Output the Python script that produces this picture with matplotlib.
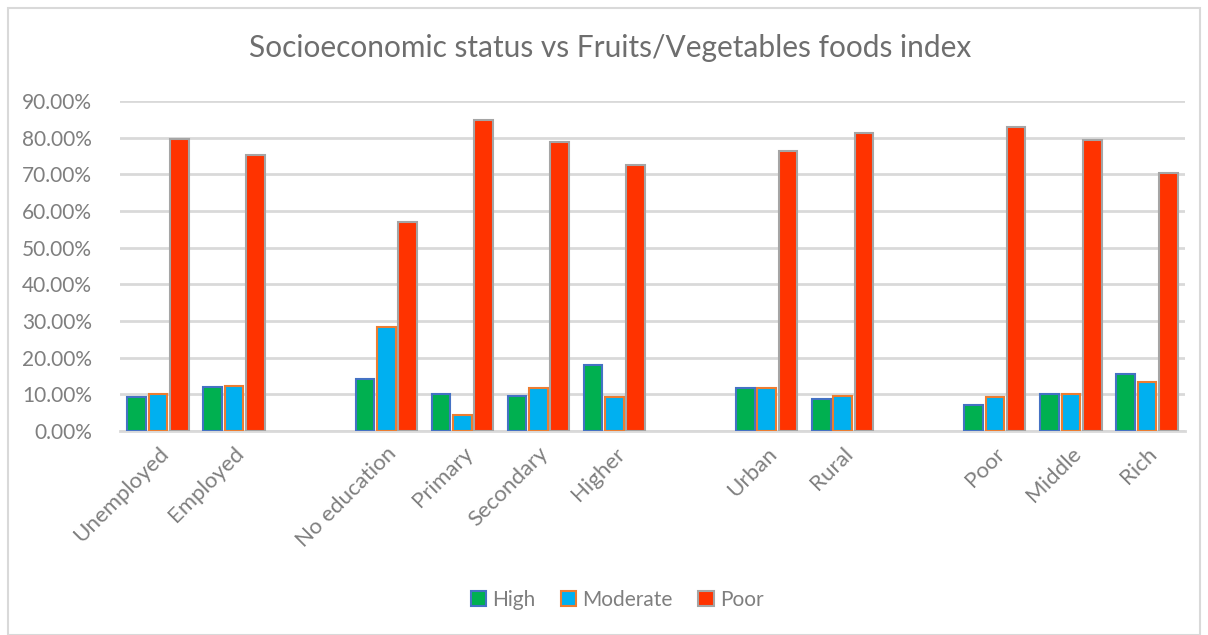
import numpy as np
import matplotlib
matplotlib.use('Agg')
from matplotlib import pyplot
from matplotlib.patches import Rectangle
from matplotlib.ticker import FuncFormatter


# socioeconomic categories, grouped (employment, education, residence, wealth)
categories = ['Unemployed', 'Employed',
              'No education', 'Primary', 'Secondary', 'Higher',
              'Urban', 'Rural',
              'Poor', 'Middle', 'Rich']
groups = [0, 0, 1, 1, 1, 1, 2, 2, 3, 3, 3]

# share of respondents per fruits/vegetables index level
high = [0.094, 0.120, 0.142, 0.102, 0.095, 0.181, 0.116, 0.086, 0.070, 0.100, 0.155]
moderate = [0.101, 0.124, 0.283, 0.044, 0.117, 0.092, 0.118, 0.096, 0.094, 0.100, 0.134]
poor = [0.797, 0.754, 0.569, 0.848, 0.787, 0.726, 0.764, 0.814, 0.829, 0.793, 0.704]

series = [('High', high, '#00B050', '#4472C4'),
          ('Moderate', moderate, '#00B0F0', '#ED7D31'),
          ('Poor', poor, '#FF3300', '#A5A5A5')]

pyplot.rcParams['font.family'] = ['Lato', 'DejaVu Sans']
text_color = '#7F7F7F'
grid_color = '#D9D9D9'

fig = pyplot.figure(figsize=(12.08, 6.35), dpi=100)
ax = fig.add_axes([120/1208, 1 - 431/635, 1065/1208, 330/635])

# leave one empty slot between each group of categories
x = np.arange(len(categories)) + np.array(groups)
width = 0.245
offsets = [-0.28, 0.0, 0.28]
for (name, values, face, edge), off in zip(series, offsets):
    ax.bar(x + off, values, width,
           color=face, edgecolor=edge, linewidth=1.5,
           label=name, zorder=3)

ax.set_xlim(-0.5, x[-1] + 0.5)
ax.set_ylim(0, 0.9)
ax.set_yticks(np.arange(0, 0.91, 0.1))
ax.yaxis.set_major_formatter(FuncFormatter(lambda v, p: '{:.2f}%'.format(v*100)))
ax.grid(True, axis='y', color=grid_color, linewidth=2, zorder=0)
for side in ['top', 'right', 'left']:
    ax.spines[side].set_visible(False)
ax.spines['bottom'].set_color(grid_color)
ax.spines['bottom'].set_linewidth(2)
ax.tick_params(axis='both', length=0, labelsize=15, labelcolor=text_color)
ax.tick_params(axis='y', pad=20)

ax.set_xticks(x)
ax.set_xticklabels(categories, rotation=45, ha='right',
                   rotation_mode='anchor', fontsize=16, color=text_color)
ax.tick_params(axis='x', pad=9)

fig.text(0.505, 1 - 48/635, 'Socioeconomic status vs Fruits/Vegetables foods index',
         ha='center', va='center', fontsize=21.5, color='#6E6E6E')

fig.legend(loc='center', bbox_to_anchor=(617/1208, 1 - 600/635), ncol=3,
           frameon=False, fontsize=15, labelcolor=text_color,
           handlelength=0.75, handleheight=0.75, handletextpad=0.3,
           columnspacing=1.2)

# light outer border round the chart area
fig.patches.append(Rectangle((8/1208, 0.0), 1192/1208, 1 - 8/635,
                             transform=fig.transFigure, fill=False,
                             edgecolor=grid_color, linewidth=1.5))

pyplot.savefig('out.png', dpi=100)
